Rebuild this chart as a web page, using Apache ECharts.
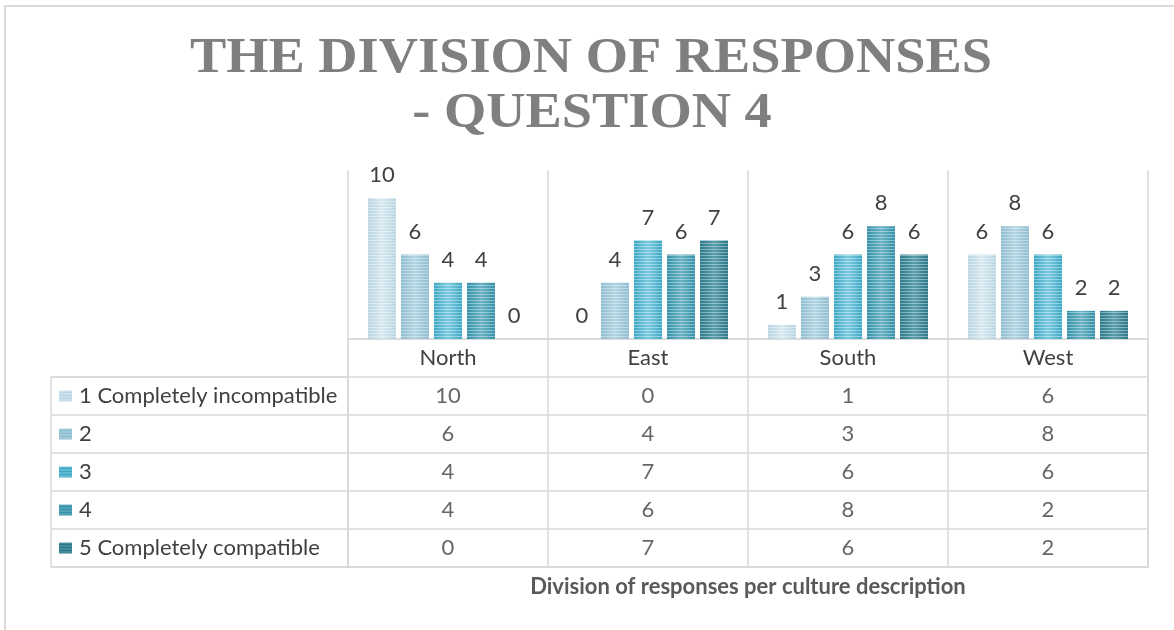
<!DOCTYPE html>
<html>
<head>
<meta charset="utf-8">
<title>The division of responses - Question 4</title>
<script src="https://cdn.jsdelivr.net/npm/echarts@6/dist/echarts.min.js"></script>
<style>
  html, body { margin: 0; padding: 0; background: #ffffff; }
  #chart { width: 1174px; height: 630px; }
</style>
</head>
<body>
<div id="chart"></div>
<script>
// Regions (culture descriptions) along the category axis
const regions = ['North', 'East', 'South', 'West'];

// Answer scale, one series per answer
const answerNames = ['1 Completely incompatible', '2', '3', '4', '5 Completely compatible'];

// Number of responses per region for each answer
const answer1 = [10, 0, 1, 6];
const answer2 = [6, 4, 3, 8];
const answer3 = [4, 7, 6, 6];
const answer4 = [4, 6, 8, 2];
const answer5 = [0, 7, 6, 2];
const answerValues = [answer1, answer2, answer3, answer4, answer5];

// Title lines and axis name
const titleLines = ['THE DIVISION OF RESPONSES', '- QUESTION 4'];
const axisTitle = 'Division of responses per culture description';

// Fill colours: edge tone and centre highlight for each answer
const baseColors  = ['#b9d5e1', '#8cbdd0', '#3ea8c4', '#3390a7', '#2a7788'];
const lightColors = ['#d8e9f0', '#b3d5e2', '#7ccbe0', '#6cb3c5', '#5c9eac'];

const textColor = '#404040';
const lineColor = '#d9d9d9';
const font = 'Lato, "Open Sans", sans-serif';
const textSize = 22;

// Small striped swatch used as the row marker in the data table
function swatch(base, light) {
  const c = document.createElement('canvas');
  c.width = 13; c.height = 11;
  const ctx = c.getContext('2d');
  ctx.fillStyle = base;
  ctx.fillRect(0, 0, 13, 11);
  ctx.fillStyle = light;
  for (let y = 0; y < 11; y += 3) ctx.fillRect(0, y, 13, 1);
  return c.toDataURL();
}

const richIcons = { sp: { width: 7 } };
answerNames.forEach((n, i) => {
  richIcons['icon' + i] = {
    width: 13, height: 11,
    backgroundColor: { image: swatch(baseColors[i], lightColors[i]) }
  };
});

// Rows of the data table: header row followed by one row per answer
const tableRows = [''].concat(answerNames);

const stripeDecal = {
  symbol: 'rect',
  symbolSize: 1,
  dashArrayX: [1, 0],
  dashArrayY: [1, 2],
  rotation: 0,
  color: 'rgba(255,255,255,0.38)'
};

const barSeries = answerNames.map((name, i) => ({
  name: name,
  type: 'bar',
  xAxisIndex: 0,
  yAxisIndex: 0,
  barCategoryGap: '20%',
  barGap: '18%',
  data: answerValues[i],
  itemStyle: {
    color: new echarts.graphic.LinearGradient(0, 0, 1, 0, [
      { offset: 0, color: baseColors[i] },
      { offset: 0.5, color: lightColors[i] },
      { offset: 1, color: baseColors[i] }
    ]),
    decal: stripeDecal
  },
  label: {
    show: true,
    position: 'top',
    distance: 12,
    color: textColor,
    fontSize: textSize,
    fontFamily: font
  },
  emphasis: { disabled: true }
}));

// Cell values of the data table, placed on the table's category axes
const cellData = [];
answerValues.forEach((vals, r) => {
  vals.forEach((v, c) => cellData.push([regions[c], answerNames[r], v]));
});

const tableSeries = {
  type: 'scatter',
  xAxisIndex: 1,
  yAxisIndex: 1,
  symbolSize: 1,
  itemStyle: { color: 'rgba(0,0,0,0)' },
  data: cellData,
  label: {
    show: true,
    position: 'inside',
    formatter: p => String(p.value[2]),
    color: textColor,
    fontSize: textSize,
    fontFamily: font
  },
  emphasis: { disabled: true },
  silent: true
};

const chart = echarts.init(document.getElementById('chart'), null, { renderer: 'canvas' });

chart.setOption({
  animation: false,
  backgroundColor: '#ffffff',
  graphic: [
    {
      type: 'rect',
      shape: { x: 5, y: 6, width: 1400, height: 800 },
      style: { fill: 'none', stroke: lineColor, lineWidth: 2 },
      silent: true
    },
    {
      type: 'text',
      x: 591, y: 59,
      scaleX: 1.066,
      style: {
        text: titleLines[0],
        font: 'bold 51px "Liberation Serif", "Times New Roman", serif',
        fill: '#7f7f7f',
        textAlign: 'center',
        textVerticalAlign: 'middle'
      },
      silent: true
    },
    {
      type: 'text',
      x: 592, y: 114,
      scaleX: 1.066,
      style: {
        text: titleLines[1],
        font: 'bold 51px "Liberation Serif", "Times New Roman", serif',
        fill: '#7f7f7f',
        textAlign: 'center',
        textVerticalAlign: 'middle'
      },
      silent: true
    }
  ],
  grid: [
    // bars
    { left: 348, top: 170, width: 800, height: 169, containLabel: false },
    // data table (header row + answer rows)
    { left: 348, top: 339, width: 800, height: 228, show: true,
      borderColor: lineColor, borderWidth: 1.5, backgroundColor: 'transparent' },
    // row label column of the table
    { left: 51, top: 377, width: 297, height: 190, show: true,
      borderColor: lineColor, borderWidth: 1.5, backgroundColor: 'transparent' }
  ],
  xAxis: [
    {
      gridIndex: 0,
      type: 'category',
      data: regions,
      axisLine: { show: false },
      axisTick: { show: false },
      axisLabel: { color: textColor, fontSize: textSize, fontFamily: font, margin: 8 },
      splitLine: { show: true, interval: 0, lineStyle: { color: lineColor, width: 1.5 } }
    },
    {
      gridIndex: 1,
      type: 'category',
      data: regions,
      axisLine: { show: false },
      axisTick: { show: false },
      axisLabel: { show: false },
      splitLine: { show: true, interval: 0, lineStyle: { color: lineColor, width: 1.5 } },
      name: axisTitle,
      nameLocation: 'middle',
      nameGap: 9,
      nameTextStyle: {
        color: '#595959', fontSize: textSize, fontWeight: 'bold', fontFamily: font,
        verticalAlign: 'top'
      }
    },
    {
      gridIndex: 2,
      type: 'value',
      show: false
    }
  ],
  yAxis: [
    {
      gridIndex: 0,
      type: 'value',
      min: 0,
      max: 12,
      show: false
    },
    {
      gridIndex: 1,
      type: 'category',
      data: tableRows,
      inverse: true,
      axisLine: { show: false },
      axisTick: { show: false },
      axisLabel: { show: false },
      splitLine: { show: true, interval: 0, lineStyle: { color: lineColor, width: 1.5 } }
    },
    {
      gridIndex: 2,
      type: 'category',
      data: answerNames,
      inverse: true,
      axisLine: { show: false },
      axisTick: { show: false },
      axisLabel: {
        inside: true,
        margin: 8,
        color: textColor,
        fontSize: textSize,
        fontFamily: font,
        formatter: (value, index) => '{icon' + index + '|}{sp|}' + value,
        rich: richIcons
      },
      splitLine: { show: true, interval: 0, lineStyle: { color: lineColor, width: 1.5 } }
    }
  ],
  series: barSeries.concat([tableSeries])
});
</script>
</body>
</html>
